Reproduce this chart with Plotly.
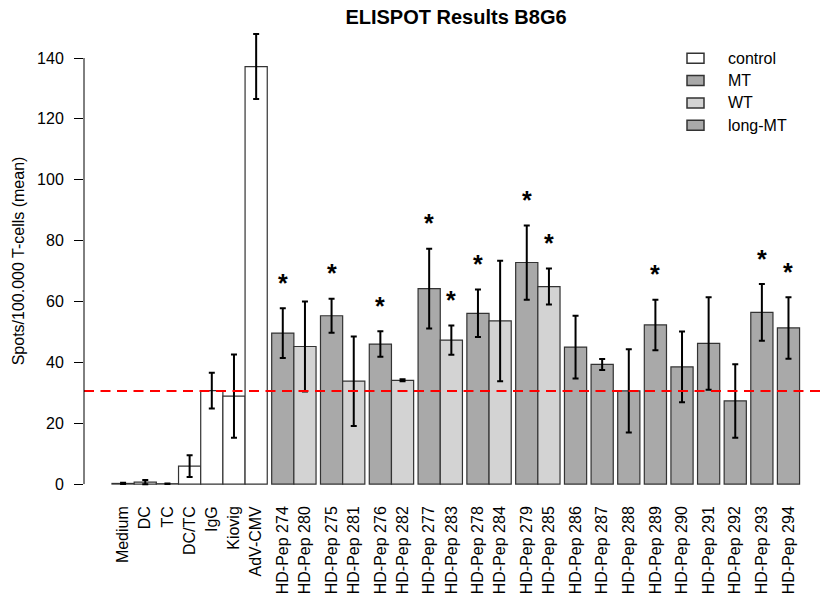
import plotly.graph_objects as go

# ---- data -------------------------------------------------------------
labels = ["Medium", "DC", "TC", "DC/TC", "IgG", "Kiovig", "AdV-CMV",
          "HD-Pep 274", "HD-Pep 280", "HD-Pep 275", "HD-Pep 281",
          "HD-Pep 276", "HD-Pep 282", "HD-Pep 277", "HD-Pep 283",
          "HD-Pep 278", "HD-Pep 284", "HD-Pep 279", "HD-Pep 285",
          "HD-Pep 286", "HD-Pep 287", "HD-Pep 288", "HD-Pep 289",
          "HD-Pep 290", "HD-Pep 291", "HD-Pep 292", "HD-Pep 293",
          "HD-Pep 294"]
groups = (["control"] * 7 + ["MT", "WT"] * 6 + ["long-MT"] * 9)
means = [0.2, 0.6, 0.1, 5.9, 30.7, 28.9, 137.2,
         49.6, 45.2, 55.3, 33.8, 46.0, 34.1, 64.2, 47.3,
         56.1, 53.6, 72.8, 64.9,
         45.0, 39.3, 30.6, 52.3, 38.5, 46.2, 27.3, 56.4, 51.3]
sds = [0.2, 0.7, 0.1, 3.6, 5.9, 13.7, 10.7,
       8.2, 14.8, 5.6, 14.7, 4.2, 0.3, 13.1, 4.8,
       7.8, 19.8, 12.2, 5.9,
       10.3, 1.8, 13.7, 8.3, 11.6, 15.2, 12.1, 9.3, 10.1]
significant = ["HD-Pep 274", "HD-Pep 275", "HD-Pep 276", "HD-Pep 277",
               "HD-Pep 283", "HD-Pep 278", "HD-Pep 279", "HD-Pep 285",
               "HD-Pep 289", "HD-Pep 293", "HD-Pep 294"]
threshold = 30.6

legend_labels = ["control", "MT", "WT", "long-MT"]
group_colors = {"control": "#FFFFFF", "MT": "#A9A9A9",
                "WT": "#D3D3D3", "long-MT": "#A9A9A9"}

y_ticks = [0, 20, 40, 60, 80, 100, 120, 140]

# ---- bar layout (barplot-style spacing, in bar-width units) -----------
space = []
for i, g in enumerate(groups):
    if i == 0 or g == "control":
        space.append(0.0)
    elif g == "WT":
        space.append(0.0)          # WT sits directly next to its MT partner
    else:
        space.append(0.2)
centers = []
pos = 0.0
for s in space:
    pos += s
    centers.append(pos + 0.5)
    pos += 1.0

# ---- geometry ---------------------------------------------------------
W, H = 824, 601
ML, MR, MT_, MB = 84, 0, 20, 99
PW, PH = W - ML - MR, H - MT_ - MB
PX_PER_BAR = 22.18
x_lo = -1.262
x_hi = x_lo + PW / PX_PER_BAR
y_lo, y_hi = -5.9, -5.9 + PH / 3.043

FONT = "Liberation Sans, Arial, sans-serif"

fig = go.Figure()
for g in ["control", "MT", "WT", "long-MT"]:
    idx = [i for i, gg in enumerate(groups) if gg == g]
    fig.add_trace(go.Bar(
        x=[centers[i] for i in idx],
        y=[means[i] for i in idx],
        width=1.0,
        marker=dict(color=group_colors[g],
                    line=dict(color="#333333", width=1.2)),
        error_y=dict(type="data", array=[sds[i] for i in idx], visible=True,
                     color="black", thickness=2, width=3),
        name=g, showlegend=False, hoverinfo="skip",
    ))

# threshold line
fig.add_shape(type="line", xref="paper", x0=0, x1=1, yref="y",
              y0=threshold, y1=threshold, layer="above",
              line=dict(color="#FF0000", width=2, dash="10px,6.5px"))

# y axis line spanning the tick range only
fig.add_shape(type="line", xref="paper", x0=0, x1=0, yref="y",
              y0=y_ticks[0], y1=y_ticks[-1],
              line=dict(color="black", width=1))

# significance stars
for lab in significant:
    i = labels.index(lab)
    fig.add_annotation(x=centers[i], y=means[i] + sds[i] + 8.4,
                       text="<b>*</b>", showarrow=False, yanchor="middle",
                       font=dict(family=FONT, size=25, color="black"))

# legend (drawn as boxes + text)
def px_x(p):
    return (p - ML) / PW

def px_y(p):
    return (H - MB - p) / PH

for k, lab in enumerate(legend_labels):
    yc = 58.3 + k * 22.3
    fig.add_shape(type="rect", xref="paper", yref="paper",
                  x0=px_x(687), x1=px_x(704), y0=px_y(yc + 5), y1=px_y(yc - 5),
                  fillcolor=group_colors[lab],
                  line=dict(color="#333333", width=1.5))
    fig.add_annotation(xref="paper", yref="paper", x=px_x(726), y=px_y(yc),
                       xanchor="left", yanchor="middle", text=lab,
                       showarrow=False,
                       font=dict(family=FONT, size=16, color="black"))

fig.update_layout(
    width=W, height=H,
    margin=dict(l=ML, r=MR, t=MT_, b=MB, pad=0),
    paper_bgcolor="white", plot_bgcolor="white",
    barmode="overlay",
    showlegend=False,
    font=dict(family=FONT, size=16, color="black"),
    title=dict(text="<b>ELISPOT Results B8G6</b>", x=px_x(456), xref="paper",
               xanchor="center", y=1 - 17 / H, yanchor="middle",
               font=dict(family=FONT, size=20, color="black")),
    xaxis=dict(range=[x_lo, x_hi], tickvals=centers, ticktext=labels,
               tickangle=-90, ticks="", showgrid=False, zeroline=False,
               showline=False, tickfont=dict(size=16)),
    yaxis=dict(range=[y_lo, y_hi], tickvals=y_ticks, ticks="outside",
               ticklen=9, tickcolor="black", tickwidth=1,
               showgrid=False, zeroline=False, showline=False,
               ticklabelstandoff=7, tickfont=dict(size=16),
               title=dict(text="Spots/100.000 T-cells (mean)", standoff=8,
                          font=dict(size=16))),
)

fig.write_html("out.html")
